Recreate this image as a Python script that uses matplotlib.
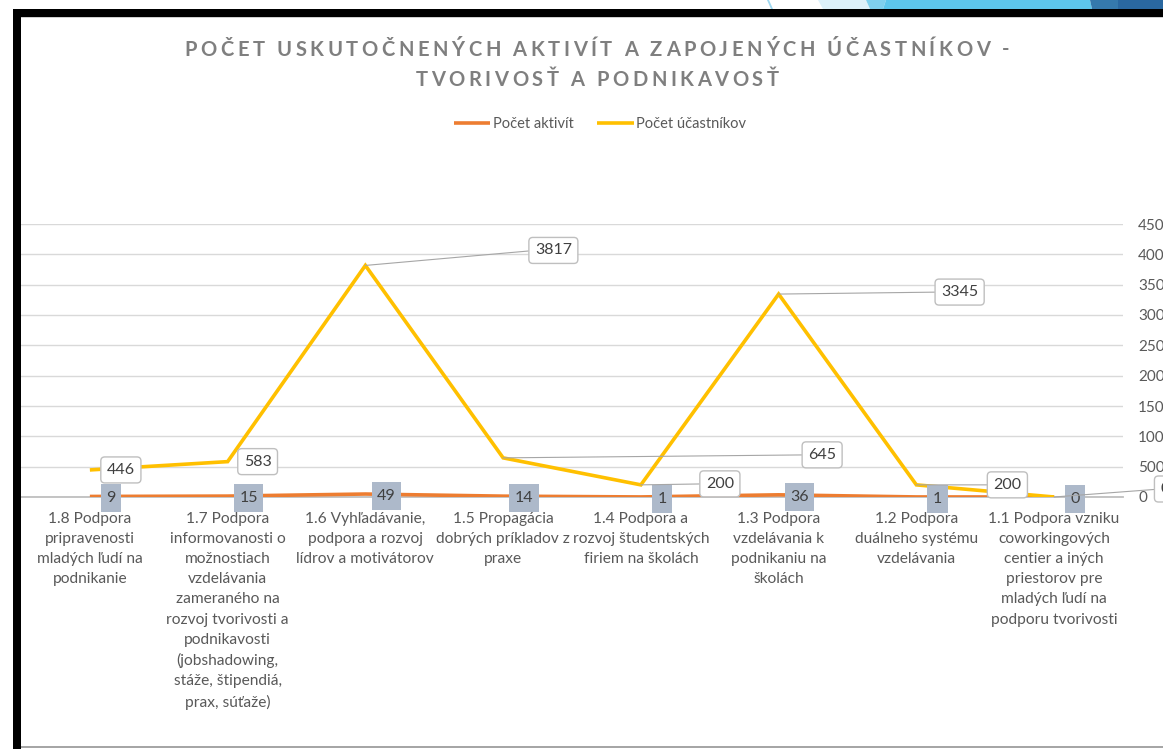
import matplotlib
matplotlib.use('Agg')
import matplotlib.pyplot as plt
from matplotlib.patches import Rectangle, Polygon
from matplotlib.path import Path
import numpy as np

# ---------------- data ----------------
categories = [
    "1.8 Podpora\npripravenosti\nmladých ľudí na\npodnikanie",
    "1.7 Podpora\ninformovanosti o\nmožnostiach\nvzdelávania\nzameraného na\nrozvoj tvorivosti a\npodnikavosti\n(jobshadowing,\nstáže, štipendiá,\nprax, súťaže)",
    "1.6 Vyhľadávanie,\npodpora a rozvoj\nlídrov a motivátorov",
    "1.5 Propagácia\ndobrých príkladov z\npraxe",
    "1.4 Podpora a\nrozvoj študentských\nfiriem na školách",
    "1.3 Podpora\nvzdelávania k\npodnikaniu na\nškolách",
    "1.2 Podpora\nduálneho systému\nvzdelávania",
    "1.1 Podpora vzniku\ncoworkingových\ncentier a iných\npriestorov pre\nmladých ľudí na\npodporu tvorivosti",
]
aktivity = [9, 15, 49, 14, 1, 36, 1, 0]
ucastnici = [446, 583, 3817, 645, 200, 3345, 200, 0]
y_ticks = [0, 500, 1000, 1500, 2000, 2500, 3000, 3500, 4000, 4500]
series_names = ["Počet aktivít", "Počet účastníkov"]
title_lines = ["POČET USKUTOČNENÝCH AKTIVÍT A ZAPOJENÝCH ÚČASTNÍKOV -",
               "TVORIVOSŤ A PODNIKAVOSŤ"]

# ---------------- layout / style ----------------
W, H = 1163, 749
FONT = ['Lato', 'DejaVu Sans']
plt.rcParams['font.family'] = FONT
ORANGE = '#ED7D31'
YELLOW = '#FFC000'
TXT = '#595959'

fig = plt.figure(figsize=(W / 100, H / 100), dpi=100)
fig.patch.set_facecolor('white')

def fx(x):
    return x / W

def fy(y):
    return 1 - y / H

def hv_box(padx, pady, rounded=False):
    """Box style with separate horizontal / vertical padding (in pixels)."""
    def style(x0, y0, width, height, mutation_size):
        l, r = x0 - padx, x0 + width + padx
        b, t = y0 - pady, y0 + height + pady
        if not rounded:
            verts = [(l, b), (r, b), (r, t), (l, t), (l, b)]
            codes = [Path.MOVETO] + [Path.LINETO] * 3 + [Path.CLOSEPOLY]
            return Path(verts, codes)
        rr = 4.0
        verts = [(l + rr, b), (r - rr, b), (r, b), (r, b + rr),
                 (r, t - rr), (r, t), (r - rr, t),
                 (l + rr, t), (l, t), (l, t - rr),
                 (l, b + rr), (l, b), (l + rr, b), (l + rr, b)]
        codes = [Path.MOVETO, Path.LINETO, Path.CURVE3, Path.CURVE3,
                 Path.LINETO, Path.CURVE3, Path.CURVE3,
                 Path.LINETO, Path.CURVE3, Path.CURVE3,
                 Path.LINETO, Path.CURVE3, Path.CURVE3, Path.CLOSEPOLY]
        return Path(verts, codes)
    return style

ax = fig.add_axes([fx(21), fy(497), (1123 - 21) / W, (497 - 224) / H])
x = np.arange(len(categories))
ax.set_xlim(-0.5, len(categories) - 0.5)
ax.set_ylim(0, max(y_ticks))

for s in ['top', 'left', 'right']:
    ax.spines[s].set_visible(False)
ax.spines['bottom'].set_color('#BFBFBF')
ax.spines['bottom'].set_linewidth(1.3)
ax.spines['bottom'].set_zorder(1.5)

ax.yaxis.grid(True, color='#D9D9D9', lw=1)
ax.set_axisbelow(True)

ax.yaxis.tick_right()
ax.set_yticks(y_ticks)
ax.set_yticklabels([str(v) for v in y_ticks])
ax.tick_params(axis='y', length=0, pad=11, labelsize=11, labelcolor=TXT)

ax.set_xticks(x)
ax.set_xticklabels(categories, fontsize=11.2, color=TXT, linespacing=1.55)
ax.tick_params(axis='x', length=0, pad=11)

l1, = ax.plot(x, aktivity, color=ORANGE, lw=2.6, zorder=2,
              solid_joinstyle='miter', solid_capstyle='butt', label=series_names[0])
l2, = ax.plot(x, ucastnici, color=YELLOW, lw=2.6, zorder=3,
              solid_joinstyle='miter', solid_capstyle='butt', label=series_names[1])

# orange data labels
for xi, v in zip(x, aktivity):
    ax.annotate(str(v), (xi, v), xytext=(21, -2), textcoords='offset pixels',
                ha='center', va='center', fontsize=11.5, color='#404040',
                bbox=dict(boxstyle=hv_box(5.5, 7.0), fc='#ADB9CA', ec='none'),
                zorder=6, annotation_clip=False)

# yellow data labels (offsets in pixels, leader flag)
y_offsets = [(31, 0, False), (30, 0, False), (188, 15, True), (319, 3, True),
             (79, 1, True), (181, 2, True), (91, 0, True), (111, 8, True)]
for xi, v, (dx, dy, lead) in zip(x, ucastnici, y_offsets):
    kw = {}
    if lead:
        kw['arrowprops'] = dict(arrowstyle='-', color='#A6A6A6', lw=0.8,
                                shrinkA=0, shrinkB=0, relpos=(0, 0.5))
    ax.annotate(str(v), (xi, v), xytext=(dx, dy), textcoords='offset pixels',
                ha='center', va='center', fontsize=11.5, color='#404040',
                bbox=dict(boxstyle=hv_box(6, 6, rounded=True),
                          fc='white', ec='#BFBFBF', lw=1),
                zorder=7, annotation_clip=False, **kw)

# legend
fig.legend(handles=[l1, l2], loc='center', bbox_to_anchor=(fx(600), fy(124)),
           ncol=2, frameon=False, fontsize=10.5, handlelength=2.5,
           handletextpad=0.2, columnspacing=1.6, labelcolor=TXT)

# title with letter spacing
renderer = fig.canvas.get_renderer()

def tracked(s, xc, ybase, target_w, **kw):
    arts = []
    widths = []
    for ch in s:
        if ch == ' ':
            t1 = fig.text(0, 0, 'n n', **kw)
            t2 = fig.text(0, 0, 'nn', **kw)
            w = (t1.get_window_extent(renderer).width -
                 t2.get_window_extent(renderer).width)
            t1.remove(); t2.remove()
            widths.append(w)
            arts.append(None)
        else:
            t = fig.text(0, fy(ybase), ch, ha='left', va='baseline', **kw)
            widths.append(t.get_window_extent(renderer).width)
            arts.append(t)
    n = len(s)
    track = (target_w - sum(widths)) / (n - 1)
    pos = xc - target_w / 2
    for a, w in zip(arts, widths):
        if a is not None:
            a.set_x(fx(pos))
        pos += w + track

tkw = dict(fontsize=14.5, fontweight='bold', color='#7F7F7F', family=FONT)
tracked(title_lines[0], 597, 55.5, 825, **tkw)
tracked(title_lines[1], 597, 86, 363, **tkw)

# slide frame
fig.add_artist(Rectangle((fx(13), fy(17)), (W - 13) / W, 8 / H, color='black', lw=0))
fig.add_artist(Rectangle((fx(13), 0), 8 / W, fy(9), color='black', lw=0))
fig.add_artist(Rectangle((fx(21), fy(18.2)), (W - 21) / W, 1.2 / H, color='#CFCFCF', lw=0))
fig.add_artist(Rectangle((fx(21), fy(748)), (W - 21) / W, 1.6 / H, color='#A6A6A6', lw=0))

# slide decoration top right
def poly(pts, c):
    fig.add_artist(Polygon([(fx(a), fy(b)) for a, b in pts], closed=True, color=c, lw=0))

poly([(767, 0), (769, 0), (773, 9), (771, 9)], '#9FD8F0')
poly([(818, 0), (866, 0), (870, 9), (823, 9)], '#DDF1FA')
poly([(866, 0), (886, 0), (883, 9), (870, 9)], '#7FD0EE')
poly([(886, 0), (1090, 0), (1092, 9), (883, 9)], '#5DC6EC')
poly([(1090, 0), (1118, 0), (1118, 9), (1092, 9)], '#3579AC')
poly([(1118, 0), (W, 0), (W, 9), (1118, 9)], '#2A68A0')

fig.savefig('out.png', dpi=100, facecolor='white')
